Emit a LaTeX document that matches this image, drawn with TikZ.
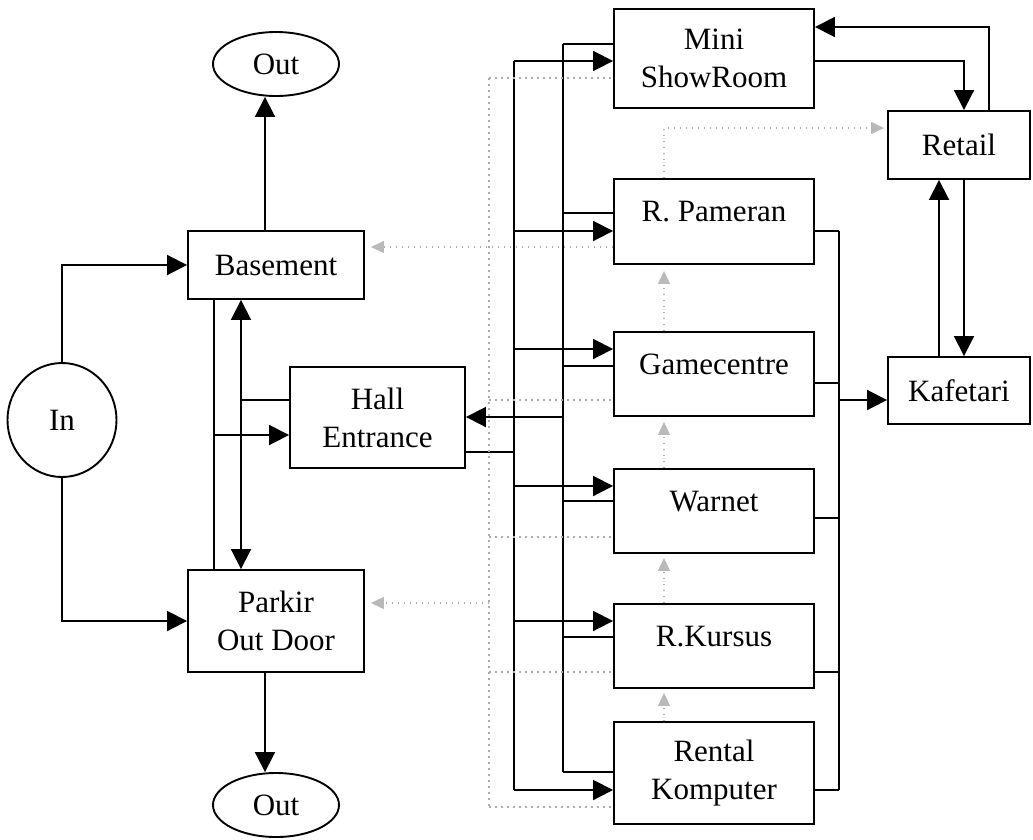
\documentclass[tikz,border=0pt]{standalone}
\usepackage{fontspec}
\setmainfont{Liberation Serif}
\usetikzlibrary{arrows.meta,shapes.geometric}
\begin{document}
\begin{tikzpicture}[x=1pt,y=-1pt,
  font=\fontsize{31}{38}\selectfont,
  box/.style={draw, line width=1.9pt, inner sep=0pt, align=center},
  oval/.style={draw, ellipse, line width=1.9pt, inner sep=0pt},
  hi/.style={text height=21pt, text depth=21pt},
  ln/.style={line width=1.9pt},
  arr/.style={ln, -{Triangle[length=20pt,width=20pt]}},
  arrb/.style={ln, {Triangle[length=20pt,width=20pt]}-{Triangle[length=20pt,width=20pt]}},
  dotl/.style={draw=gray!65, line width=1.2pt, dash pattern=on 1.5pt off 4.5pt},
  garr/.style={dotl, -{Triangle[length=13pt,width=12pt,color=gray!55]}},
]
\useasboundingbox (0,0) rectangle (1033,839);

% left column
\node[oval, minimum width=126pt, minimum height=64pt] (Out1) at (276,64) {Out};
\node[oval, minimum width=109pt, minimum height=114pt] (In) at (62,420) {In};
\node[box, minimum width=176pt, minimum height=68pt] (Basement) at (276,265) {Basement};
\node[box, minimum width=176pt, minimum height=102pt] (Parkir) at (276,621) {Parkir\\Out Door};
\node[oval, minimum width=126pt, minimum height=64pt] (Out2) at (276,805) {Out};
\node[box, minimum width=175pt, minimum height=101pt] (Hall) at (377.5,417.5) {Hall\\Entrance};

% right column
\node[box, minimum width=200pt, minimum height=99pt] (Mini) at (714,58.5) {Mini\\ShowRoom};
\node[box, hi, minimum width=200pt, minimum height=85pt] (Pameran) at (714,221.5) {R. Pameran};
\node[box, hi, minimum width=200pt, minimum height=84pt] (Gamecentre) at (714,374) {Gamecentre};
\node[box, hi, minimum width=200pt, minimum height=84pt] (Warnet) at (714,511) {Warnet};
\node[box, hi, minimum width=200pt, minimum height=84pt] (Kursus) at (714,646) {R.Kursus};
\node[box, minimum width=200pt, minimum height=102pt] (Rental) at (714,773) {Rental\\Komputer};
\node[box, minimum width=142pt, minimum height=68pt] (Retail) at (959,145) {Retail};
\node[box, minimum width=142pt, minimum height=67pt] (Kafetari) at (959,390.5) {Kafetari};

% helper coordinates
\coordinate (cx) at (265,0);
\coordinate (bx) at (214,0);
\coordinate (dx) at (241,0);
\coordinate (hallIn) at (214,435);
\coordinate (hallB) at (241,400);
\coordinate (hallOut) at (514,452);
\coordinate (aTop) at (514,61);
\coordinate (aBot) at (514,790);
\coordinate (bTop) at (563,44);
\coordinate (bBot) at (563,772);
\coordinate (bHall) at (563,417);
\coordinate (dTop) at (489,78);
\coordinate (dBot) at (489,807);
\coordinate (dPark) at (489,603);
\coordinate (vx) at (664,0);
\coordinate (rTop) at (839,231);
\coordinate (rBot) at (839,790);
\coordinate (rKaf) at (839,400);
\coordinate (mA) at (964,0);
\coordinate (mB) at (989,0);
\coordinate (mC) at (939,0);

% left connectors
\draw[arr] (In.north) |- (Basement.west);
\draw[arr] (In.south) |- (Parkir.west);
\draw[arr] (Basement.north -| cx) -- (Out1.south -| cx);
\draw[arr] (Parkir.south -| cx) -- (Out2.north -| cx);
\draw[ln] (Basement.south -| bx) -- (Parkir.north -| bx);
\draw[arr] (hallIn) -- (hallIn -| Hall.west);
\draw[arrb] (Basement.south -| dx) -- (Parkir.north -| dx);
\draw[ln] (Hall.west |- hallB) -- (hallB);

% bus A (Hall -> rooms)
\draw[ln] (Hall.east |- hallOut) -- (hallOut);
\draw[ln] (aTop) -- (aBot);
\foreach \n/\y in {Mini/61, Pameran/231, Gamecentre/349, Warnet/486, Kursus/621, Rental/790}
  \draw[arr] (514,\y) -- (\n.west |- 0,\y);

% bus B (rooms -> Hall)
\draw[ln] (bTop) -- (bBot);
\foreach \n/\y in {Mini/44, Pameran/213, Gamecentre/366, Warnet/501, Kursus/637, Rental/772}
  \draw[ln] (\n.west |- 0,\y) -- (563,\y);
\draw[arr] (bHall) -- (bHall -| Hall.east);

% dotted bus (rooms -> Basement / Parkir)
\draw[dotl] (dTop) -- (dBot);
\foreach \n/\y in {Mini/78, Gamecentre/400, Warnet/537, Kursus/672, Rental/807}
  \draw[dotl] (489,\y) -- (\n.west |- 0,\y);
\draw[garr, shorten >=6pt] (Pameran.west |- 0,247) -- (Basement.east |- 0,247);
\draw[garr, shorten >=6pt] (dPark) -- (dPark -| Parkir.east);

% dotted arrows between rooms
\draw[garr, shorten >=6pt] (Gamecentre.north -| vx) -- (Pameran.south -| vx);
\draw[garr, shorten >=5pt] (Warnet.north -| vx) -- (Gamecentre.south -| vx);
\draw[garr, shorten >=4pt] (Kursus.north -| vx) -- (Warnet.south -| vx);
\draw[garr, shorten >=4pt] (Rental.north -| vx) -- (Kursus.south -| vx);
\draw[garr, shorten >=3pt] (Pameran.north -| vx) |- (Retail.west |- 0,128);

% right bus (rooms -> Kafetari)
\draw[ln] (rTop) -- (rBot);
\foreach \n/\y in {Pameran/231, Gamecentre/383, Warnet/518, Kursus/672, Rental/790}
  \draw[ln] (\n.east |- 0,\y) -- (839,\y);
\draw[arr] (rKaf) -- (rKaf -| Kafetari.west);

% Mini / Retail / Kafetari
\draw[arr] (Mini.east |- 0,61) -| (Retail.north -| mA);
\draw[arr] (Retail.north -| mB) |- (Mini.east |- 0,27);
\draw[arr] (Kafetari.north -| mC) -- (Retail.south -| mC);
\draw[arr] (Retail.south -| mA) -- (Kafetari.north -| mA);
\end{tikzpicture}
\end{document}
